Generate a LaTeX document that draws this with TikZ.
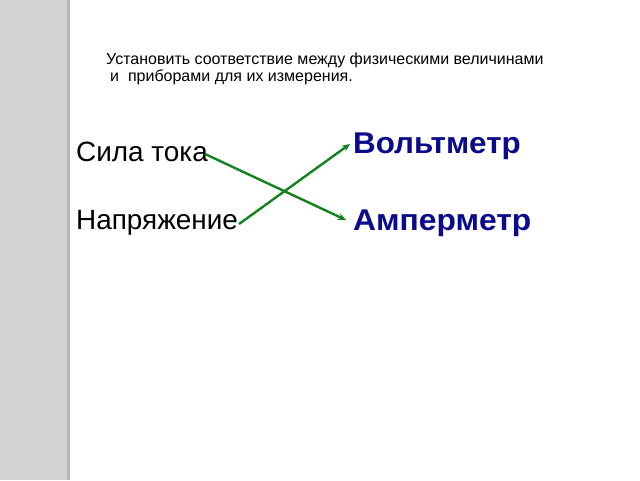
\documentclass[tikz,border=0pt]{standalone}
\usepackage{fontspec}
\setmainfont{Liberation Sans}
\usetikzlibrary{arrows.meta}
\definecolor{stripgray}{HTML}{D3D3D3}
\definecolor{edgegray}{HTML}{B8B8B8}
\definecolor{lblue}{HTML}{0A0A8C}
\definecolor{agreen}{HTML}{14821E}
\tikzset{
  ttl/.style={anchor=base west, inner sep=0pt, font=\fontsize{16}{19}\selectfont},
  qty/.style={anchor=base west, inner sep=0pt, font=\fontsize{27.9}{32}\selectfont},
  dev/.style={anchor=base west, inner sep=0pt, text=lblue, font=\fontsize{30}{34}\selectfont\bfseries},
  conn/.style={draw=agreen, line width=2.4pt, -{Stealth[length=8pt,width=7pt]}}
}
\begin{document}
\begin{tikzpicture}[x=1pt,y=-1pt]
\useasboundingbox (0,0) rectangle (640,480);
\fill[white] (0,0) rectangle (640,480);
\fill[stripgray] (0,0) rectangle (67,480);
\fill[edgegray] (67,0) rectangle (70,480);
\node[ttl] (title) at (106,64)
  {Установить соответствие между физическими величинами};
\node[ttl] (title2) at (110,81)
  {и\ \ приборами для их измерения.};
\node[qty] (sila) at (76,161) {Сила тока};
\node[qty] (napr) at (76,229) {Напряжение};
\node[dev] (volt) at (353,153) {\scalebox{1.045}[1]{Вольтметр}};
\node[dev] (amp) at (353,230) {\scalebox{1.06}[1]{Амперметр}};
\coordinate (s1) at (205,154);
\coordinate (e1) at (346,220);
\coordinate (s2) at (239,224);
\coordinate (e2) at (350,144);
\draw[conn] (s1) -- (e1);
\draw[conn] (s2) -- (e2);
\end{tikzpicture}
\end{document}
